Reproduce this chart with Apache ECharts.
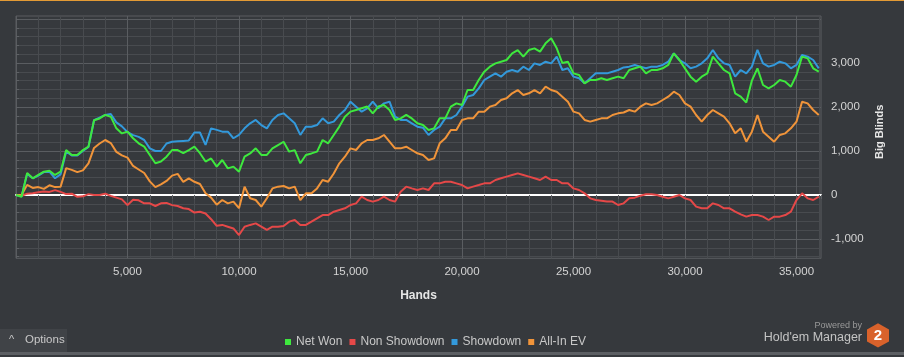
<!DOCTYPE html>
<html>
<head>
<meta charset="utf-8">
<script src="https://cdn.jsdelivr.net/npm/echarts@6/dist/echarts.min.js"></script>
<style>
html,body{margin:0;padding:0;background:#36393d;}
#chart{width:904px;height:357px;}
</style>
</head>
<body>
<div id="chart"></div>
<script>
// hands sampled every 250 hands, 0 .. 36000
const handStep = 250;

const netWon = [
  0, -40, 500, 380, 455, 530, 550, 455, 530, 1020, 910, 910, 1020, 1100, 1700, 1740, 1820, 1780, 1515, 1400,
  1440, 1290, 1175, 1100, 910, 720, 760, 870, 1020, 1020, 950, 1020, 1100, 950, 760, 830, 645, 795, 605, 645,
  530, 870, 945, 1060, 910, 910, 1060, 1135, 1210, 985, 1020, 720, 910, 945, 985, 1250, 1175, 1365, 1555, 1780,
  1895, 1930, 1970, 2010, 1855, 2010, 2045, 1930, 1705, 1740, 1820, 1740, 1630, 1590, 1477, 1515, 1742, 1742, 2008, 2083,
  2045, 2386, 2386, 2614, 2803, 2917, 2992, 3030, 3068, 3220, 3295, 3144, 3295, 3333, 3258, 3447, 3560, 3333, 3000, 3030,
  2765, 2727, 2538, 2614, 2614, 2652, 2614, 2652, 2690, 2652, 2841, 2879, 2917, 2765, 2841, 2841, 2879, 2955, 3220, 3068,
  2879, 2690, 2576, 2690, 2765, 3144, 2992, 2841, 2765, 2311, 2235, 2100, 2600, 2879, 2500, 2424, 2500, 2614, 2576, 2462,
  2727, 3144, 3106, 2879, 2803
];

const nonShowdown = [
  0, -20, 30, 40, 60, 80, 70, 110, 70, 20, 30, -40, -30, 20, 0, 0, 30, -20, -60, -100,
  -230, -110, -120, -190, -190, -250, -190, -180, -230, -250, -300, -320, -400, -380, -420, -550, -700, -680, -720, -760,
  -910, -720, -680, -645, -720, -795, -720, -720, -705, -606, -568, -680, -680, -606, -530, -455, -455, -379, -341, -303,
  -227, -190, -38, -114, -150, -114, -38, -114, -150, 76, 190, 150, 114, 150, 114, 265, 265, 303, 303, 265,
  227, 150, 190, 227, 265, 265, 341, 379, 417, 455, 492, 455, 417, 379, 341, 417, 341, 341, 265, 265,
  150, 114, 38, -76, -114, -129, -150, -150, -227, -190, -76, -60, -15, 15, 15, 0, -38, -76, -38, 0,
  -76, -114, -265, -303, -303, -190, -227, -303, -303, -379, -440, -492, -455, -455, -492, -568, -492, -492, -455, -379,
  -114, 38, -76, -114, -38
];

const showdown = [
  0, -30, 480, 380, 440, 520, 530, 380, 470, 990, 900, 900, 1000, 1090, 1700, 1760, 1820, 1840, 1650, 1560,
  1430, 1360, 1320, 1250, 1060, 1000, 1000, 1170, 1210, 1220, 1230, 1240, 1420, 1420, 1140, 1515, 1480, 1440, 1440, 1290,
  1365, 1515, 1630, 1705, 1590, 1515, 1705, 1818, 1856, 1742, 1630, 1365, 1553, 1553, 1590, 1742, 1630, 1667, 1818, 1932,
  2121, 2008, 1894, 1970, 2121, 1970, 2083, 2121, 1780, 1705, 1705, 1630, 1553, 1530, 1364, 1477, 1553, 1742, 1742, 1818,
  2008, 2235, 2273, 2424, 2614, 2690, 2765, 2690, 2803, 2841, 2803, 2917, 2841, 2992, 2955, 3030, 2992, 3144, 2841, 2879,
  2690, 2652, 2538, 2652, 2765, 2765, 2765, 2803, 2841, 2900, 2917, 2955, 2917, 2879, 2917, 2917, 2955, 3030, 3220, 3068,
  2992, 2879, 2917, 2992, 3106, 3295, 3106, 2992, 2955, 2690, 2841, 2765, 2917, 3300, 2992, 2917, 2955, 3030, 2992, 2879,
  2955, 3182, 3144, 3068, 2879
];

const allInEV = [
  0, 0, 230, 160, 180, 140, 220, 180, 190, 610, 570, 520, 560, 720, 1070, 1170, 1250, 1180, 980, 900,
  850, 660, 580, 500, 310, 180, 240, 320, 440, 480, 300, 380, 300, 250, 40, -60, -220, -114, -190, -150,
  -300, 190, -75, -114, -265, -75, 150, 190, 205, 150, 190, -114, 38, 38, 150, 340, 303, 490, 720, 870,
  1060, 1023, 1174, 1250, 1250, 1288, 1364, 1212, 1060, 1060, 1098, 1023, 947, 910, 795, 833, 1174, 1288, 1477, 1477,
  1705, 1742, 1742, 1894, 1894, 2008, 2045, 2159, 2197, 2311, 2386, 2273, 2311, 2386, 2311, 2462, 2386, 2348, 2235, 2121,
  1894, 1856, 1705, 1667, 1705, 1742, 1742, 1818, 1856, 1875, 1932, 1894, 2008, 2083, 2045, 2083, 2159, 2235, 2348, 2273,
  2083, 2008, 1818, 1667, 1818, 1932, 1856, 1780, 1629, 1401, 1515, 1212, 1439, 1818, 1439, 1326, 1212, 1364, 1401, 1515,
  1667, 2121, 2083, 1932, 1818
];

const seriesNames = ['Net Won', 'Non Showdown', 'Showdown', 'All-In EV'];
const seriesColors = ['#3ee83e', '#e54848', '#3399db', '#f0943a'];

const xMin = 0, xMax = 36100;
const yMin = -1400, yMax = 4000;

const hands = netWon.map((_, i) => i * handStep);
const pairs = arr => arr.map((v, i) => [hands[i], v]);

function fmt(v) {
  const s = Math.abs(v).toString().replace(/\B(?=(\d{3})+(?!\d))/g, ',');
  return (v < 0 ? '-' : '') + s;
}

const MAJOR = '#5a5d61';
const MINOR = '#484b4f';
const FONT = '"Liberation Sans", Arial, sans-serif';

const chart = echarts.init(document.getElementById('chart'), null, {renderer: 'canvas'});

const dataSets = [netWon, nonShowdown, showdown, allInEV];

chart.setOption({
  backgroundColor: '#36393d',
  animation: false,
  textStyle: {fontFamily: FONT},
  grid: [
    {left: 16, right: 83, top: 16, bottom: 98.7, show: true, borderColor: MAJOR, borderWidth: 1, backgroundColor: 'transparent'},
    {left: 16, right: 83, top: 19, bottom: 100.4, show: false}
  ],
  xAxis: [
    {
      gridIndex: 0, type: 'value', min: xMin, max: xMax, interval: 1000,
      axisLine: {show: false},
      axisTick: {show: true, length: 4, lineStyle: {color: '#5e6165'}},
      axisLabel: {
        color: '#d4d4d4', fontSize: 11.5, fontFamily: FONT, margin: 8,
        formatter: v => (v % 5000 === 0 && v !== 0) ? fmt(v) : ''
      },
      splitLine: {show: true, lineStyle: {color: [MAJOR, MINOR, MINOR, MINOR, MINOR], width: 1}},
      name: 'Hands', nameLocation: 'middle', nameGap: 31,
      nameTextStyle: {color: '#e6e6e6', fontWeight: 'bold', fontSize: 12, fontFamily: FONT}
    },
    {
      gridIndex: 1, type: 'value', min: xMin, max: xMax,
      axisLine: {show: true, onZero: true, lineStyle: {color: '#ffffff', width: 2}},
      axisTick: {show: false}, axisLabel: {show: false}, splitLine: {show: false}
    }
  ],
  yAxis: [
    {
      gridIndex: 0, type: 'value', min: -1440, max: 4070,
      axisLine: {show: false}, axisTick: {show: false}, axisLabel: {show: false}, splitLine: {show: false}
    },
    {
      gridIndex: 1, type: 'value', position: 'right', min: yMin, max: yMax, interval: 200,
      axisLine: {show: false},
      axisTick: {show: true, length: 3, lineStyle: {color: '#5e6165'}},
      axisLabel: {
        color: '#d4d4d4', fontSize: 11.5, fontFamily: FONT, margin: 10,
        formatter: v => (v % 1000 === 0 && v < 4000) ? fmt(v) : ''
      },
      splitLine: {show: true, lineStyle: {color: [MINOR, MINOR, MAJOR, MINOR, MINOR], width: 1}},
      name: 'Big Blinds', nameLocation: 'middle', nameRotate: 90, nameGap: 47,
      nameTextStyle: {color: '#e6e6e6', fontWeight: 'bold', fontSize: 11, fontFamily: FONT, padding: [0, 0, 0, 12]}
    }
  ],
  legend: {
    left: 280, top: 331,
    icon: 'rect', itemWidth: 6, itemHeight: 6, itemGap: 7,
    textStyle: {color: '#c8c8c8', fontSize: 12, fontFamily: FONT},
    data: seriesNames
  },
  series: dataSets.map((d, i) => ({
    name: seriesNames[i],
    type: 'line',
    xAxisIndex: 1, yAxisIndex: 1,
    data: pairs(d),
    showSymbol: false,
    symbol: 'none',
    color: seriesColors[i],
    lineStyle: {width: 2, color: seriesColors[i]},
    z: i === 0 ? 5 : 3
  })),
  graphic: [
    {type: 'rect', left: 0, top: 0, shape: {width: 904, height: 1}, style: {fill: '#e39a35'}},
    {type: 'rect', left: 0, top: 352, shape: {width: 904, height: 3}, style: {fill: '#5c5f63'}},
    {type: 'rect', left: 0, top: 329, shape: {width: 67, height: 23}, style: {fill: '#404347'}},
    {type: 'text', left: 9, top: 334, style: {text: '^', fill: '#c8c8c8', font: '11px ' + FONT}},
    {type: 'text', left: 25, top: 334, style: {text: 'Options', fill: '#c8c8c8', font: '11.5px ' + FONT}},
    {type: 'text', right: 42, top: 321, style: {text: 'Powered by', fill: '#9a9a9a', font: '9px ' + FONT}},
    {type: 'text', right: 42, top: 331, style: {text: "Hold'em Manager", fill: '#c4c4c4', font: '12.5px ' + FONT}},
    {type: 'polygon', shape: {points: [[878, 323.3], [889, 329.5], [889, 341.5], [878, 347.5], [867, 341.5], [867, 329.5]]}, style: {fill: '#d9622b'}},
    {type: 'text', x: 878, y: 335.5, style: {text: '2', fill: '#ffffff', font: 'bold 15px ' + FONT, align: 'center', verticalAlign: 'middle'}}
  ]
});
</script>
</body>
</html>
